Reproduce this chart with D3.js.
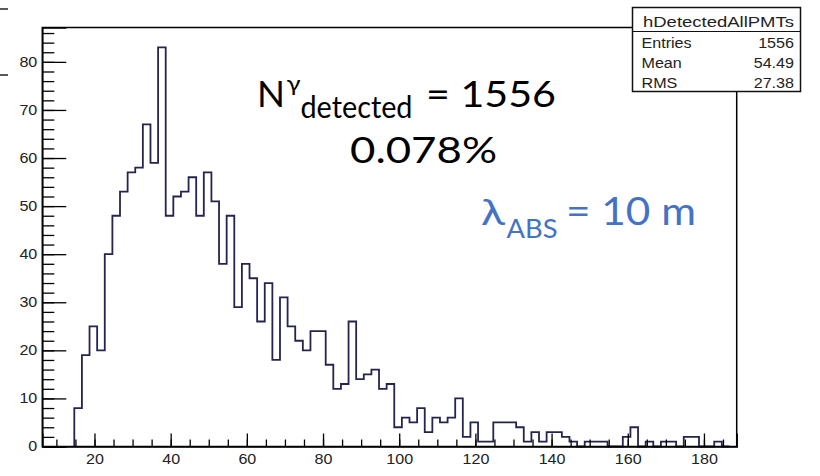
<!DOCTYPE html>
<html>
<head>
<meta charset="utf-8">
<script src="https://cdn.jsdelivr.net/npm/d3@7"></script>
<style>
  body { margin: 0; background: #fff; }
  svg { display: block; }
  .axis path, .axis line { stroke: #000; }
  .axis text { font-family: 'Liberation Sans', Arial, sans-serif; font-size: 14px; fill: #222; }
</style>
</head>
<body>
<svg id="chart" width="820" height="476"></svg>
<script>
// histogram contents (bin width 2, first bin starts at 14.7)
const binCounts = [8, 19, 25, 20, 40, 48, 53, 57, 58, 67, 59, 83, 48, 52, 53, 56, 48, 57, 51, 38,
  48, 29, 38, 35, 26, 34, 18, 31, 25, 22, 20, 24, 24, 17, 12, 13, 26, 14, 15, 16,
  12, 13, 4, 6, 5, 8, 3, 6, 5, 6, 10, 2, 5, 1, 1, 5, 5, 5, 4, 1,
  3, 1, 3, 3, 2, 1, 0, 1, 1, 1, 0, 0, 2, 4, 0, 1, 0, 1, 1, 0,
  2, 2, 0, 0, 1, 0];
const binLow = 14.7;
const binWidth = 2;
const xDomain = [6.3, 188.6];
const yDomain = [0, 87.15];
const xMajorTicks = [20, 40, 60, 80, 100, 120, 140, 160, 180];
const yMajorTicks = [0, 10, 20, 30, 40, 50, 60, 70, 80];

const histName = 'hDetectedAllPMTs';
const statLabels = ['Entries', 'Mean', 'RMS'];
const statValues = ['1556', '54.49', '27.38'];

const svg = d3.select('#chart');
const frame = { left: 42.3, right: 736.7, top: 27.5, bottom: 446.5 };
const blue = '#4472c4';

const x = d3.scaleLinear().domain(xDomain).range([frame.left, frame.right]);
const y = d3.scaleLinear().domain(yDomain).range([frame.bottom, frame.top]);

// stretch text horizontally like the original picture
function stretch(sel, k) {
  sel.each(function () {
    const w = this.getComputedTextLength();
    d3.select(this).attr('textLength', w * k).attr('lengthAdjust', 'spacingAndGlyphs');
  });
}

// small leftover lines at the left edge
svg.append('line').attr('x1', 0).attr('x2', 8).attr('y1', 9).attr('y2', 9)
  .attr('stroke', '#222').attr('stroke-width', 1.5);
svg.append('line').attr('x1', 0).attr('x2', 8).attr('y1', 75).attr('y2', 75)
  .attr('stroke', '#222').attr('stroke-width', 1.5);

// histogram outline
const pts = [[binLow, 0]];
binCounts.forEach((c, i) => {
  pts.push([binLow + i * binWidth, c]);
  pts.push([binLow + (i + 1) * binWidth, c]);
});
pts.push([binLow + binCounts.length * binWidth, 0]);

const line = d3.line().x(d => x(d[0])).y(d => y(d[1]));
svg.append('path')
  .attr('d', line(pts))
  .attr('fill', 'none')
  .attr('stroke', '#24244f')
  .attr('stroke-width', 1.8);

// frame
svg.append('rect')
  .attr('x', frame.left).attr('y', frame.top)
  .attr('width', frame.right - frame.left).attr('height', frame.bottom - frame.top)
  .attr('fill', 'none').attr('stroke', '#000').attr('stroke-width', 1.5);

// y axis: minor ticks every 2, major every 10
svg.append('g').attr('class', 'axis')
  .attr('transform', `translate(${frame.left},0)`)
  .call(d3.axisLeft(y).tickValues(d3.range(0, 87, 2)).tickSize(-12).tickFormat(''))
  .call(g => g.select('.domain').remove())
  .selectAll('line').attr('stroke-width', 1.3);

const yAx = svg.append('g').attr('class', 'axis')
  .attr('transform', `translate(${frame.left},0)`)
  .call(d3.axisLeft(y).tickValues(yMajorTicks).tickSize(-24).tickPadding(5));
yAx.select('.domain').attr('stroke-width', 1.5);
yAx.selectAll('line').attr('stroke-width', 1.3);
stretch(yAx.selectAll('text'), 1.15);

// x axis: minor ticks every 5, major every 20
svg.append('g').attr('class', 'axis')
  .attr('transform', `translate(0,${frame.bottom})`)
  .call(d3.axisBottom(x).tickValues(d3.range(10, 188, 5)).tickSize(-7).tickFormat(''))
  .call(g => g.select('.domain').remove())
  .selectAll('line').attr('stroke-width', 1.3);

const xAx = svg.append('g').attr('class', 'axis')
  .attr('transform', `translate(0,${frame.bottom})`)
  .call(d3.axisBottom(x).tickValues(xMajorTicks).tickSize(-13).tickPadding(8));
xAx.select('.domain').attr('stroke-width', 1.5);
xAx.selectAll('line').attr('stroke-width', 1.3);
stretch(xAx.selectAll('text'), 1.15);

// stats box
const box = svg.append('g').attr('font-family', "'Liberation Sans', Arial, sans-serif")
  .attr('font-size', 14).attr('fill', '#222');
box.append('rect')
  .attr('x', 632.5).attr('y', 7.5).attr('width', 168).attr('height', 84)
  .attr('fill', '#fff').attr('stroke', '#111').attr('stroke-width', 1.5);
box.append('line').attr('x1', 632.5).attr('x2', 800.5).attr('y1', 31.5).attr('y2', 31.5)
  .attr('stroke', '#111').attr('stroke-width', 1.2);
box.append('text').attr('x', 643).attr('y', 27).attr('textLength', 151)
  .attr('lengthAdjust', 'spacingAndGlyphs').text(histName);
statLabels.forEach((lab, i) => {
  const by = 47.5 + i * 20;
  box.append('text').attr('x', 641.5).attr('y', by).text(lab).call(stretch, 1.15);
  box.append('text').attr('x', 794).attr('y', by).attr('text-anchor', 'end')
    .text(statValues[i]).call(stretch, 1.15);
});

// annotations
const ann = svg.append('g').attr('font-family', 'Lato, Carlito, Calibri, sans-serif');
function put(txt, x0, base, size, len, color) {
  return ann.append('text').attr('x', x0).attr('y', base).attr('font-size', size)
    .attr('fill', color).attr('textLength', len).attr('lengthAdjust', 'spacingAndGlyphs')
    .text(txt);
}
put('N', 257, 107, 37, 28, '#000');
put('\u03b3', 286.5, 91, 21, 14, '#000');
put('detected', 300.5, 118.3, 31, 112, '#000');
put('= 1556', 426, 107, 37, 130, '#000');
put('0.078%', 350, 163.3, 37, 147, '#000');
put('\u03bb', 481, 225, 37, 24, blue);
put('ABS', 506.5, 238.3, 26.5, 51, blue);
put('= 10 m', 566, 225, 38.5, 130, blue);
</script>
</body>
</html>
